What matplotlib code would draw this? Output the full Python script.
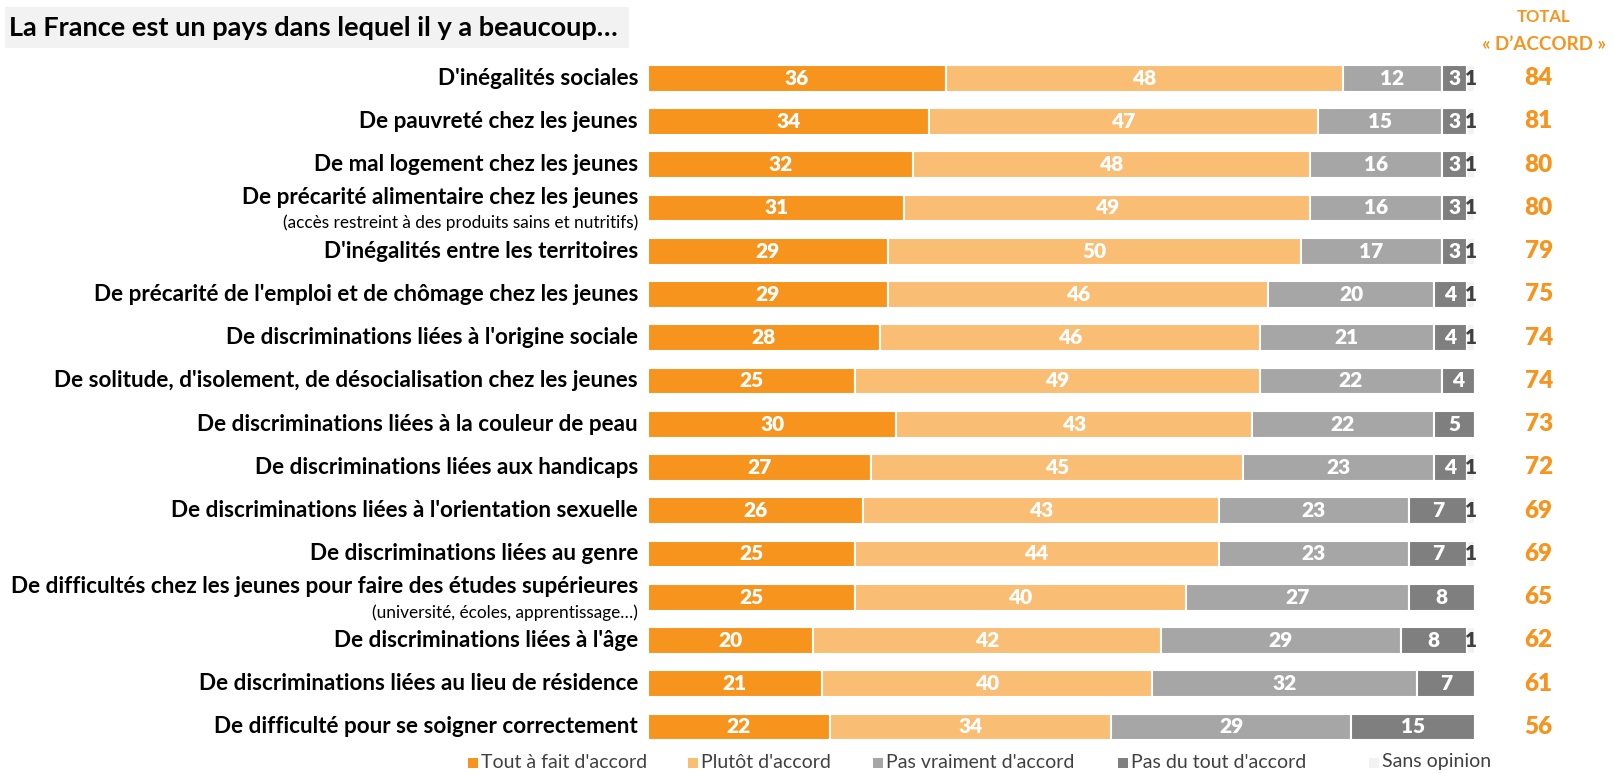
import matplotlib
matplotlib.use("Agg")
import matplotlib.pyplot as plt
from matplotlib.patches import Rectangle

plt.rcParams['font.family'] = ['Lato', 'DejaVu Sans']

items = [
    "D'inégalités sociales",
    "De pauvreté chez les jeunes",
    "De mal logement chez les jeunes",
    "De précarité alimentaire chez les jeunes",
    "D'inégalités entre les territoires",
    "De précarité de l'emploi et de chômage chez les jeunes",
    "De discriminations liées à l'origine sociale",
    "De solitude, d'isolement, de désocialisation chez les jeunes",
    "De discriminations liées à la couleur de peau",
    "De discriminations liées aux handicaps",
    "De discriminations liées à l'orientation sexuelle",
    "De discriminations liées au genre",
    "De difficultés chez les jeunes pour faire des études supérieures",
    "De discriminations liées à l'âge",
    "De discriminations liées au lieu de résidence",
    "De difficulté pour se soigner correctement",
]
sub_labels = {
    3: "(accès restreint à des produits sains et nutritifs)",
    12: "(université, écoles, apprentissage…)",
}

tout_a_fait = [36, 34, 32, 31, 29, 29, 28, 25, 30, 27, 26, 25, 25, 20, 21, 22]
plutot = [48, 47, 48, 49, 50, 46, 46, 49, 43, 45, 43, 44, 40, 42, 40, 34]
pas_vraiment = [12, 15, 16, 16, 17, 20, 21, 22, 22, 23, 23, 23, 27, 29, 32, 29]
pas_du_tout = [3, 3, 3, 3, 3, 4, 4, 4, 5, 4, 7, 7, 8, 8, 7, 15]
sans_opinion = [1, 1, 1, 1, 1, 1, 1, 0, 0, 1, 1, 1, 0, 1, 0, 0]
total_accord = [84, 81, 80, 80, 79, 75, 74, 74, 73, 72, 69, 69, 65, 62, 61, 56]

series = [
    ("Tout à fait d'accord", tout_a_fait, "#F7941D", "white"),
    ("Plutôt d'accord", plutot, "#FABD74", "white"),
    ("Pas vraiment d'accord", pas_vraiment, "#A6A6A6", "white"),
    ("Pas du tout d'accord", pas_du_tout, "#7F7F7F", "white"),
    ("Sans opinion", sans_opinion, "#F2F2F2", "#404040"),
]

W, H = 1614, 774
fig = plt.figure(figsize=(W / 100, H / 100), dpi=100)

x0_px, x1_px = 648, 1475
top_px, bot_px = 56.6, 748.6
ax = fig.add_axes([x0_px / W, 1 - bot_px / H, (x1_px - x0_px) / W, (bot_px - top_px) / H])
ax.set_xlim(0, 100)
n = len(items)
ax.set_ylim(n - 0.5, -0.5)
ax.axis("off")

ypos = list(range(n))
left = [0.0] * n
for name, vals, color, tcolor in series:
    ax.barh(ypos, vals, left=left, height=0.62, color=color,
            edgecolor="white", linewidth=1.5)
    for i, v in enumerate(vals):
        if v > 0:
            ax.text(left[i] + v / 2, i, f"{v}", ha="center", va="center",
                    color=tcolor, fontsize=15, fontweight="heavy")
    left = [l + v for l, v in zip(left, vals)]

for i, lab in enumerate(items):
    if i in sub_labels:
        ax.text(-1.2, i - 0.24, lab, ha="right", va="center",
                fontsize=16.2, fontweight="bold", color="black", clip_on=False)
        ax.text(-1.2, i + 0.35, sub_labels[i], ha="right", va="center",
                fontsize=12.4, color="black", clip_on=False)
    else:
        ax.text(-1.2, i, lab, ha="right", va="center",
                fontsize=16.2, fontweight="bold", color="black", clip_on=False)
    ax.text(107.7, i, f"{total_accord[i]}", ha="center", va="center",
            fontsize=17.5, fontweight="heavy", color="#F7941D", clip_on=False)

fig.text(1544 / W, 1 - 16.5 / H, "TOTAL", ha="center", va="center",
         fontsize=12, fontweight="bold", color="#F7941D")
fig.text(1544 / W, 1 - 45 / H, "« D’ACCORD »", ha="center", va="center",
         fontsize=13.5, fontweight="bold", color="#F7941D")

fig.patches.append(Rectangle((5 / W, 1 - 48 / H), 624 / W, 41 / H,
                             transform=fig.transFigure, facecolor="#F2F2F2",
                             edgecolor="none"))
fig.text(9 / W, 1 - 28 / H, "La France est un pays dans lequel il y a beaucoup…",
         ha="left", va="center", fontsize=19.5, fontweight="bold", color="black")

legend_x = [468, 688, 873, 1118, 1369]
ly = 1 - 762 / H
for (name, vals, color, tcolor), lx in zip(series, legend_x):
    fig.patches.append(Rectangle((lx / W, ly - 6 / H), 10 / W, 10 / H,
                                 transform=fig.transFigure, facecolor=color,
                                 edgecolor="none"))
    fig.text((lx + 13) / W, ly, name, ha="left", va="center",
             fontsize=14, color="#404040")

fig.savefig("out.png", dpi=100)
